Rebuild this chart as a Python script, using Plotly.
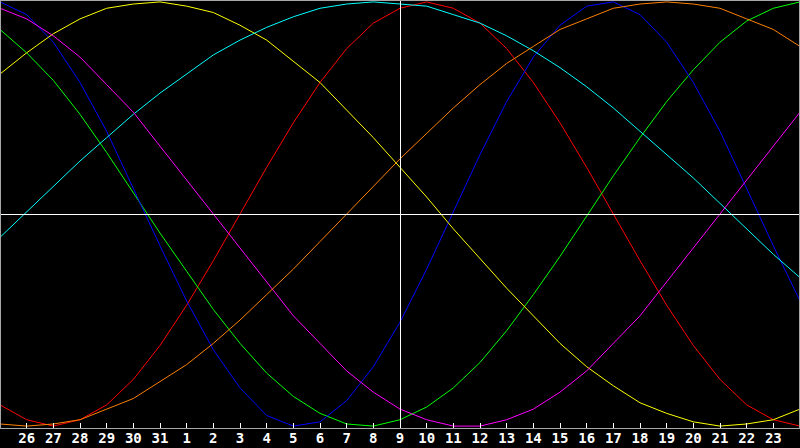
import plotly.graph_objects as go

# Day index 0..30 (dates 25 .. 31, 1 .. 24)
days = list(range(31))
tick_days = list(range(1, 30))
tick_labels = ["26", "27", "28", "29", "30", "31", "1", "2", "3", "4", "5", "6", "7", "8", "9",
               "10", "11", "12", "13", "14", "15", "16", "17", "18", "19", "20", "21", "22", "23"]
today_index = 15

# Series values (percent, -100..100) at each day
red = [-90, -97, -100, -97, -90, -78, -62, -43, -22, 0, 22, 43, 62, 78, 90, 97,
       100, 97, 90, 78, 62, 43, 22, 0, -22, -43, -62, -78, -90, -97, -100]
green = [87, 76, 63, 47, 29, 10, -9, -27, -45, -61, -75, -86, -94, -99, -100, -97,
         -91, -82, -70, -55, -38, -20, -1, 18, 36, 53, 68, 81, 91, 97, 100]
blue = [100, 94, 81, 62, 39, 12, -15, -41, -64, -82, -95, -100, -98, -88, -72, -51,
        -26, 1, 28, 53, 74, 89, 98, 100, 94, 81, 62, 39, 12, -15, -41]
yellow = [66, 76, 85, 92, 97, 99, 100, 98, 95, 89, 82, 72, 62, 49, 36, 22,
          8, -7, -21, -35, -48, -61, -72, -81, -89, -94, -98, -100, -99, -97, -92]
cyan = [-11, 1, 13, 25, 36, 47, 57, 66, 75, 82, 88, 93, 97, 99, 100, 99,
        98, 94, 90, 84, 77, 69, 60, 50, 39, 28, 17, 5, -7, -19, -30]
magenta = [97, 92, 84, 74, 61, 48, 32, 16, 0, -16, -32, -48, -61, -74, -84, -92,
           -97, -100, -100, -97, -92, -84, -74, -61, -48, -32, -16, 0, 16, 32, 48]
orange = [-99, -100, -99, -97, -92, -87, -79, -71, -61, -50, -38, -26, -13, 0, 13, 26,
          38, 50, 61, 71, 79, 87, 92, 97, 99, 100, 99, 97, 92, 87, 79]

series = [
    ("red", red, "#ff0000"),
    ("green", green, "#00ff00"),
    ("blue", blue, "#0000ff"),
    ("yellow", yellow, "#ffff00"),
    ("cyan", cyan, "#00ffff"),
    ("magenta", magenta, "#ff00ff"),
    ("orange", orange, "#ff8000"),
]

fig = go.Figure()
for name, vals, col in series:
    fig.add_trace(go.Scatter(x=days, y=vals, mode="lines", name=name,
                             line=dict(color=col, width=1), hoverinfo="skip"))

W, H = 800, 448
plot_h = 428
gray = "#a8a8a8"

fig.update_layout(
    width=W, height=H,
    paper_bgcolor="black", plot_bgcolor="black",
    margin=dict(l=0, r=0, t=0, b=H - plot_h, pad=0),
    showlegend=False,
    xaxis=dict(range=[0, 30], showgrid=False, zeroline=False, showline=False,
               tickmode="array", tickvals=tick_days, ticktext=tick_labels,
               ticks="inside", ticklen=5, tickwidth=1, tickcolor="white",
               tickfont=dict(family="DejaVu Sans Mono", size=14, color="white", weight="bold"),
               fixedrange=True),
    yaxis=dict(range=[-100.9, 100.9], visible=False, fixedrange=True),
    shapes=[
        # zero line (pixel-aligned)
        dict(type="line", xref="paper", yref="paper", x0=0, x1=1,
             y0=1 - 214.5 / plot_h, y1=1 - 214.5 / plot_h,
             line=dict(color="white", width=1)),
        # today line (pixel-aligned)
        dict(type="line", xref="paper", yref="paper", x0=400.5 / W, x1=400.5 / W, y0=0, y1=1,
             line=dict(color="white", width=1)),
        # frame
        dict(type="line", xref="paper", yref="paper", x0=0.5 / W, x1=0.5 / W, y0=0, y1=1,
             line=dict(color=gray, width=1)),
        dict(type="line", xref="paper", yref="paper", x0=1 - 0.5 / W, x1=1 - 0.5 / W, y0=0, y1=1,
             line=dict(color=gray, width=1)),
        dict(type="line", xref="paper", yref="paper", x0=0, x1=1, y0=1 - 0.5 / plot_h, y1=1 - 0.5 / plot_h,
             line=dict(color=gray, width=1)),
        dict(type="line", xref="paper", yref="paper", x0=0, x1=1, y0=-0.5 / plot_h, y1=-0.5 / plot_h,
             line=dict(color=gray, width=1)),
    ],
)

fig.write_html("out.html", config={"displayModeBar": False, "staticPlot": True},
               post_script="document.body.style.margin='0';document.body.style.background='black';")
